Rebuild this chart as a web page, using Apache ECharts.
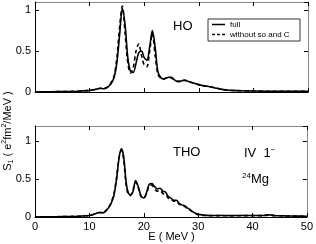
<!DOCTYPE html>
<html>
<head>
<meta charset="utf-8">
<script src="https://cdn.jsdelivr.net/npm/echarts@6/dist/echarts.min.js"></script>
<style>html,body{margin:0;padding:0;background:#fff}#c{width:316px;height:244px}</style>
</head>
<body>
<div id="c"></div>
<script>
// Top panel (HO)
var hoE      = [0,2,4,6,8,9,10,11,11.5,12,12.5,13,13.5,14,14.5,15,15.5,16,16.5,17,17.5,18,18.5,19,19.5,20,20.5,21,21.5,22,22.5,23,23.5,24,24.5,25,25.5,26,26.5,27,27.5,28,29,30,31,32,33,34,35,36,38,40,42,44,46,48,50];
var hoFull   = [0,0.002,0.004,0.006,0.01,0.015,0.02,0.03,0.04,0.045,0.04,0.05,0.07,0.11,0.18,0.36,0.7,1.02,0.82,0.42,0.25,0.24,0.35,0.48,0.5,0.42,0.39,0.55,0.75,0.55,0.25,0.18,0.16,0.17,0.18,0.18,0.15,0.13,0.13,0.14,0.145,0.13,0.11,0.09,0.075,0.065,0.05,0.035,0.025,0.02,0.015,0.012,0.01,0.01,0.01,0.008,0.008];
var hoNoSoC  = [0,0.002,0.004,0.006,0.01,0.015,0.02,0.03,0.04,0.045,0.04,0.05,0.07,0.12,0.2,0.42,0.8,1.05,0.72,0.35,0.23,0.3,0.5,0.59,0.45,0.33,0.31,0.5,0.72,0.45,0.22,0.17,0.16,0.17,0.18,0.17,0.15,0.13,0.13,0.14,0.14,0.13,0.11,0.09,0.075,0.065,0.05,0.035,0.025,0.02,0.015,0.012,0.01,0.01,0.01,0.008,0.008];
// Bottom panel (THO)
var thoE     = [0,2,4,6,8,9,10,11,11.5,12,12.5,13,13.5,14,14.5,15,15.5,15.9,16.3,16.7,17,17.5,18,18.5,19,19.5,20,20.5,21,21.5,22,22.5,23,23.5,24,24.5,25,25.5,26,26.5,27,27.5,28,28.5,29,29.5,30,31,32,34,36,38,40,42,43,44,46,48,50];
var thoFull  = [0,0.002,0.004,0.006,0.01,0.015,0.02,0.04,0.055,0.06,0.055,0.08,0.12,0.18,0.28,0.5,0.8,0.9,0.8,0.5,0.36,0.29,0.33,0.48,0.4,0.28,0.25,0.32,0.43,0.44,0.4,0.37,0.38,0.34,0.33,0.27,0.25,0.22,0.22,0.18,0.16,0.15,0.12,0.1,0.07,0.05,0.035,0.025,0.02,0.02,0.018,0.02,0.02,0.02,0.03,0.02,0.015,0.012,0.01];
var thoNoSoC = [0,0.002,0.004,0.006,0.01,0.015,0.02,0.04,0.055,0.06,0.055,0.08,0.12,0.19,0.3,0.52,0.8,0.88,0.76,0.46,0.33,0.28,0.35,0.46,0.38,0.27,0.25,0.31,0.41,0.42,0.37,0.34,0.35,0.31,0.3,0.25,0.24,0.21,0.21,0.17,0.15,0.14,0.11,0.09,0.065,0.045,0.03,0.022,0.018,0.018,0.016,0.018,0.018,0.018,0.025,0.018,0.014,0.011,0.01];
var xTicks = [0,10,20,30,40,50];

function pairs(xs, ys){ return xs.map(function(x,i){ return [x, ys[i]]; }); }

var font = 'Liberation Sans, Arial, sans-serif';
function xAx(gi, pos, labels){
  return {type:'value', gridIndex:gi, position:pos, min:0, max:50, interval:10,
    axisLine:{show:true, onZero:false, lineStyle:{color: pos==='bottom'?'#000':'#888', width:1}},
    axisTick:{show:true, inside:true, length:4, lineStyle:{color:'#000'}},
    axisLabel:{show:labels, color:'#000', fontSize:11, fontFamily:font, margin:4},
    splitLine:{show:false}};
}
function yAx(gi, pos, max, labels){
  return {type:'value', gridIndex:gi, position:pos, min:0, max:max, interval:0.5,
    axisLine:{show:true, onZero:false, lineStyle:{color: pos==='left'?'#000':'#888', width:1}},
    axisTick:{show:true, inside:true, length:4, lineStyle:{color:'#000'}},
    axisLabel:{show:labels, color:'#000', fontSize:11, fontFamily:font, margin:4, showMaxLabel:false},
    splitLine:{show:false}};
}
function ser(xi, yi, data, dashed){
  return {type:'line', xAxisIndex:xi, yAxisIndex:yi, data:data, showSymbol:false, smooth:0.3,
    lineStyle:{color:'#000', width:1.6, type: dashed ? [4,3] : 'solid'}, z: dashed?3:2, silent:true};
}

var chart = echarts.init(document.getElementById('c'), null, {renderer:'canvas'});
chart.setOption({
  animation:false,
  backgroundColor:'#fff',
  grid:[{left:35, top:2, width:273, height:90}, {left:35, top:126, width:273, height:91}],
  xAxis:[xAx(0,'bottom',false), xAx(0,'top',false), xAx(1,'bottom',true), xAx(1,'top',false)],
  yAxis:[yAx(0,'left',1.1,true), yAx(0,'right',1.1,false), yAx(1,'left',1.2,true), yAx(1,'right',1.2,false)],
  series:[
    ser(0,0,pairs(hoE,hoFull),false),
    ser(0,0,pairs(hoE,hoNoSoC),true),
    ser(2,2,pairs(thoE,thoFull),false),
    ser(2,2,pairs(thoE,thoNoSoC),true)
  ],
  graphic:[
    {type:'text', left:173, top:20, style:{text:'HO', font:'13px '+font, fill:'#000'}},
    {type:'rect', shape:{x:208, y:19, width:92, height:22}, style:{fill:'#fff', stroke:'#000', lineWidth:0.8}, z:10},
    {type:'line', shape:{x1:212, y1:24.5, x2:225, y2:24.5}, style:{stroke:'#000', lineWidth:1.5}, z:11},
    {type:'line', shape:{x1:212, y1:34.5, x2:225, y2:34.5}, style:{stroke:'#000', lineWidth:1.5, lineDash:[3,2]}, z:11},
    {type:'text', x:230, y:24.5, style:{text:'full', font:'8px '+font, fill:'#000', textVerticalAlign:'middle'}, z:11},
    {type:'text', x:230, y:34.5, style:{text:'without so and C', font:'8px '+font, fill:'#000', textVerticalAlign:'middle'}, z:11},
    {type:'text', left:173, top:146, style:{text:'THO', font:'13px '+font, fill:'#000'}},
    {type:'text', left:244, top:146, style:{text:'{n|IV  1}{sp|\u2212}', font:'13px '+font, fill:'#000',
      rich:{n:{fontSize:13, fontFamily:font, lineHeight:14, verticalAlign:'bottom'}, sp:{fontSize:8, fontFamily:font, verticalAlign:'top', lineHeight:14}}}},
    {type:'text', left:242, top:172, style:{text:'{sp|24}{n|Mg}', font:'13px '+font, fill:'#000',
      rich:{n:{fontSize:13, fontFamily:font, lineHeight:14, verticalAlign:'bottom'}, sp:{fontSize:8, fontFamily:font, verticalAlign:'top', lineHeight:14}}}},
    {type:'text', x:171.5, y:237, style:{text:'E ( MeV )', font:'11px '+font, fill:'#000', textAlign:'center', textVerticalAlign:'middle'}},
    {type:'text', x:8, y:131, rotation:Math.PI/2, style:{text:'{n|S}{sb|1}{n| ( e}{sp|2}{n|fm}{sp|2}{n|/MeV )}', fill:'#000', textAlign:'center', textVerticalAlign:'middle',
      rich:{n:{fontSize:11, fontFamily:font, lineHeight:14, verticalAlign:'middle'}, sp:{fontSize:7, fontFamily:font, verticalAlign:'top', lineHeight:14}, sb:{fontSize:7, fontFamily:font, verticalAlign:'bottom', lineHeight:14}}}}
  ]
});
</script>
</body>
</html>
